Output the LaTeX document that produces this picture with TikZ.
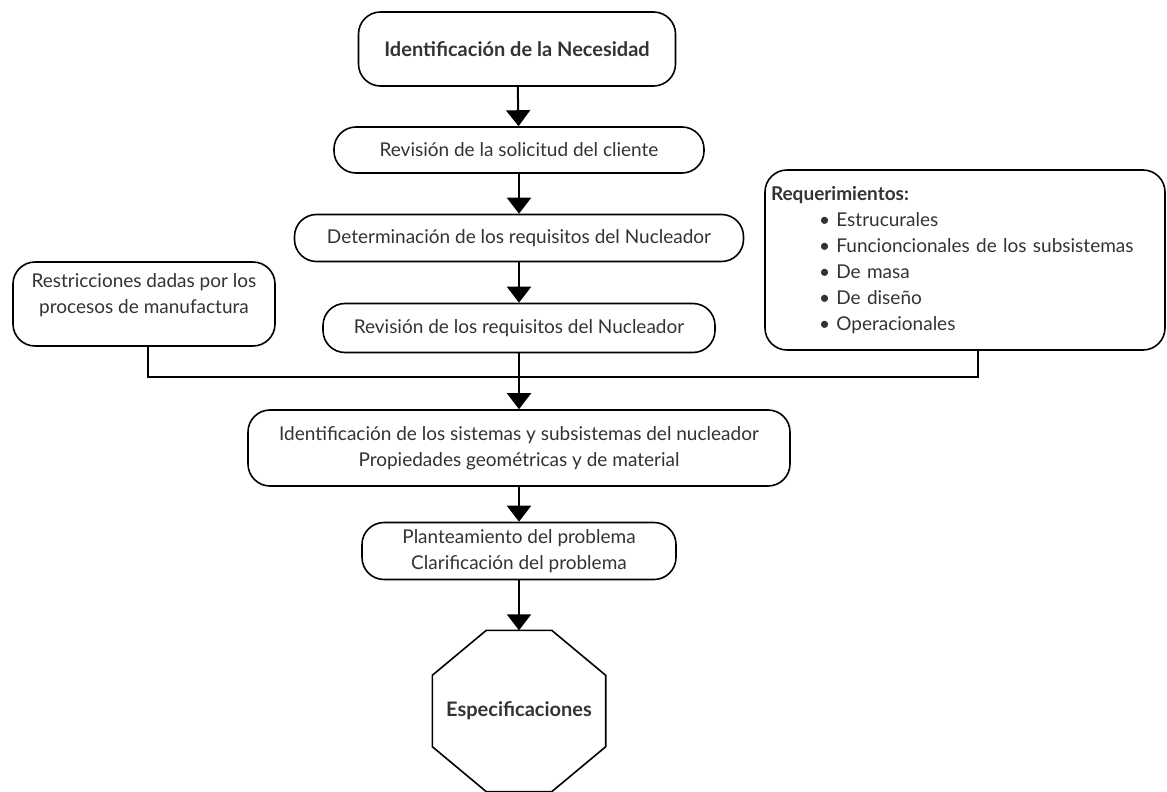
\documentclass[tikz,border=0pt]{standalone}
\usepackage{fontspec}
\setmainfont{Lato}
\usepackage{tikz}
\usetikzlibrary{shapes.geometric, positioning, shapes, arrows.meta, calc}
\definecolor{inkgray}{HTML}{333333}

\begin{document}
\begin{tikzpicture}[
      x=1pt,y=-1pt,
      every node/.style={font=\fontsize{19}{26}\selectfont, text=inkgray},
      stage/.style={
        align=center,
        rounded corners=22pt,
        draw=black,
        line width=1.6pt,
        fill=white,
        inner sep=2pt,
      },
      boldtext/.style={font=\fontsize{20}{26}\selectfont\bfseries},
      flow/.style={
        -{Triangle[width=24pt,length=16pt]},
        line width=2pt,
      },
      ]
      \useasboundingbox (0,0) rectangle (1167,792);
      \node[stage,boldtext,minimum width=317pt,minimum height=74pt] (need) at (517,49) {Identificación de la Necesidad};
      \node[stage,minimum width=370pt,minimum height=46pt] (client) at (519,150) {Revisión de la solicitud del cliente};
      \node[stage,minimum width=449pt,minimum height=47pt] (reqdet) at (519,238) {Determinación de los requisitos del Nucleador};
      \node[stage,minimum width=392pt,minimum height=49pt] (reqrev) at (519,328) {Revisión de los requisitos del Nucleador};
      \node[stage,minimum width=542pt,minimum height=76pt] (systems) at (519,448) {Identificación de los sistemas y subsistemas del nucleador\\Propiedades geométricas y de material};
      \node[stage,minimum width=314pt,minimum height=57pt] (problem) at (519,551) {Planteamiento del problema\\Clarificación del problema};
      \node[boldtext,minimum width=173pt,minimum height=161pt,inner sep=0pt] (spec) at (519,711) {Especificaciones};
      % octagon around the last node
      \draw[line width=1.6pt] ([xshift=54pt]spec.north west) -- ([xshift=-54pt]spec.north east)
        -- ([yshift=-45pt]spec.north east) -- ([yshift=45pt]spec.south east)
        -- ([xshift=-54pt]spec.south east) -- ([xshift=54pt]spec.south west)
        -- ([yshift=45pt]spec.south west) -- ([yshift=-45pt]spec.north west) -- cycle;
      \node[stage,minimum width=262pt,minimum height=84pt] (restr) at (144,304) {Restricciones dadas por los\\procesos de manufactura\\[-4pt]\mbox{}};
      \node[stage,minimum width=400pt,minimum height=180pt,align=left,text width=388pt] (reqs) at (965,260) {%
        {\bfseries Requerimientos:}\\
        \hspace*{48pt}\textbullet\ Estrucurales\\
        \hspace*{48pt}\textbullet\ Funcioncionales de los subsistemas\\
        \hspace*{48pt}\textbullet\ De masa\\
        \hspace*{48pt}\textbullet\ De diseño\\
        \hspace*{48pt}\textbullet\ Operacionales};
      \coordinate (merge) at (519,377);
      \draw[flow] (need) -- (client);
      \draw[flow] (client) -- (reqdet);
      \draw[flow] (reqdet) -- (reqrev);
      \draw[flow] (reqrev) -- (systems);
      \draw[flow] (systems) -- (problem);
      \draw[flow] (problem) -- (spec);
      \draw[line width=2pt] ([xshift=4pt]restr.south) |- (merge) -| ([xshift=13pt]reqs.south);
    \end{tikzpicture}
\end{document}
